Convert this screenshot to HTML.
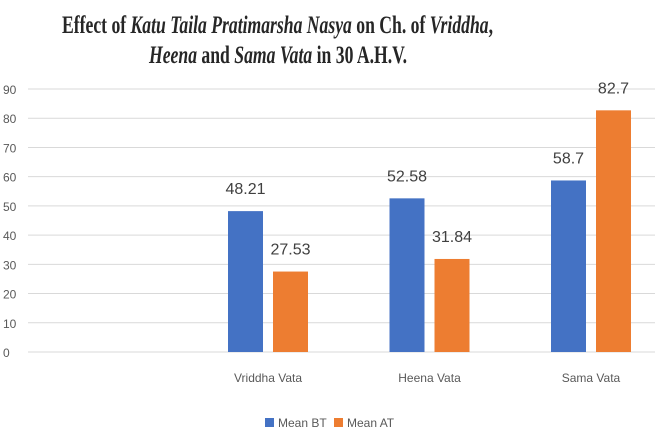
<!DOCTYPE html>
<html><head><meta charset="utf-8"><style>body{margin:0;background:#fff}svg{display:block}</style></head>
<body>
<svg id="c" width="655" height="432" xmlns="http://www.w3.org/2000/svg" font-family="Liberation Sans, sans-serif">
<text x="62" y="33" textLength="431" lengthAdjust="spacingAndGlyphs" font-family="Liberation Serif, serif" font-weight="bold" font-size="25" fill="#262626">Effect of <tspan font-style="italic">Katu Taila Pratimarsha Nasya</tspan> on Ch. of <tspan font-style="italic">Vriddha</tspan>,</text>
<text x="149" y="63" textLength="258" lengthAdjust="spacingAndGlyphs" font-family="Liberation Serif, serif" font-weight="bold" font-size="25" fill="#262626"><tspan font-style="italic">Heena</tspan> and <tspan font-style="italic">Sama Vata</tspan> in 30 A.H.V.</text>
<g id="grid"></g><g id="bars"></g><g id="labels"></g>
<g>
<rect x="265" y="418" width="9" height="9" fill="#4472C4"/>
<text x="278" y="427" font-size="12" fill="#595959">Mean BT</text>
<rect x="334" y="418" width="9" height="9" fill="#ED7D31"/>
<text x="347" y="427" font-size="12" fill="#595959">Mean AT</text>
</g>
</svg>
<script>
const categories = ["", "Vriddha Vata", "Heena  Vata", "Sama Vata"];
const meanBT = [null, 48.21, 52.58, 58.7];
const meanAT = [null, 27.53, 31.84, 82.7];
const yTicks = [0,10,20,30,40,50,60,70,80,90];
const NS="http://www.w3.org/2000/svg";
const gx0=28, gx1=655, yTop=89, yBot=352, yMax=90;
const cx0=25.75, bw=161.5;
const y=v=>yBot-(v/yMax)*(yBot-yTop);
function mk(t,a,p){const e=document.createElementNS(NS,t);for(const k in a)e.setAttribute(k,a[k]);p.appendChild(e);return e;}
const grid=document.getElementById('grid'),bars=document.getElementById('bars'),labels=document.getElementById('labels');
yTicks.forEach(t=>{
  const l=mk('line',{x1:gx0,x2:gx1,y1:y(t),y2:y(t),stroke:'#d9d9d9','stroke-width':1},grid);
  
  
  const tx=mk('text',{x:3,y:y(t)+5,'font-size':12,fill:'#595959'},grid);
  tx.textContent=t;
  
  
});
categories.forEach((c,i)=>{
  const cx=cx0+bw*(i+0.5);
  const series=[[meanBT[i],'#4472C4',-40,'bt'],[meanAT[i],'#ED7D31',5,'at']];
  series.forEach(([v,col,off,n])=>{
    if(v==null)return;
    const r=mk('rect',{x:cx+off,y:y(v),width:35,height:yBot-y(v),fill:col},bars);
    
    
    const t=mk('text',{x:cx+off+17.5,y:y(v)-17,'text-anchor':'middle','font-size':16,fill:'#404040'},labels);
    t.textContent=v;
    
    
  });
  if(c){
    const t=mk('text',{x:cx,y:382,'text-anchor':'middle','font-size':12,fill:'#595959','xml:space':'preserve'},labels);
    t.textContent=c;
    
    
  }
});
</script>
</body></html>
